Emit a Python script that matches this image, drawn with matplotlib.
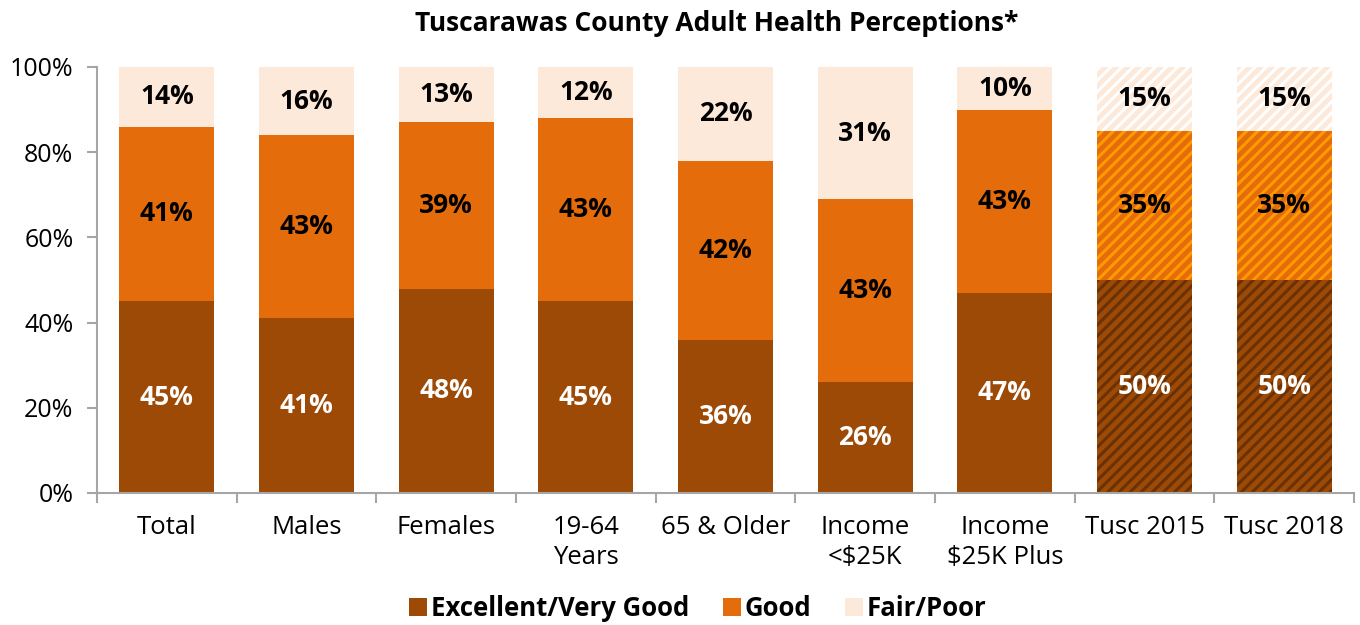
import matplotlib.pyplot as plt
from matplotlib.patches import Patch
import numpy as np

plt.rcParams['font.family'] = ['Open Sans', 'DejaVu Sans']
plt.rcParams['hatch.linewidth'] = 2.2

# data
categories = ['Total', 'Males', 'Females', '19-64\nYears', '65 & Older',
              'Income\n<$25K', 'Income\n$25K Plus', 'Tusc 2015', 'Tusc 2018']
excellent = [45, 41, 48, 45, 36, 26, 47, 50, 50]
good = [41, 43, 39, 43, 42, 43, 43, 35, 35]
fair = [14, 16, 13, 12, 22, 31, 10, 15, 15]
hatched = [False, False, False, False, False, False, False, True, True]

series_names = ['Excellent/Very Good', 'Good', 'Fair/Poor']
colors = ['#9C4A06', '#E46C0A', '#FDE9D9']
hatch_colors = ['#6A3204', '#FF9A00', '#FFFFFF']
text_colors = ['white', 'black', 'black']

fig = plt.figure(figsize=(13.6, 6.25), dpi=100)
ax = fig.add_axes([97/1360, 132/625, 1257/1360, 426/625])

x = np.arange(len(categories))
w = 0.68
bottom = np.zeros(len(categories))
for vals, c, hc, tc in zip([excellent, good, fair], colors, hatch_colors, text_colors):
    vals = np.array(vals)
    for i in range(len(categories)):
        if hatched[i]:
            ax.bar(x[i], vals[i], w, bottom=bottom[i], color=c, edgecolor=hc,
                   linewidth=0, hatch='///')
        else:
            ax.bar(x[i], vals[i], w, bottom=bottom[i], color=c, linewidth=0)
        ax.text(x[i], bottom[i] + vals[i] / 2, f'{vals[i]}%', ha='center', va='center',
                color=tc, fontsize=19, fontweight='bold')
    bottom += vals

ax.set_xlim(-0.5, len(categories) - 0.5)
ax.set_ylim(0, 100)
ax.set_yticks(range(0, 101, 20))
ax.set_yticklabels([f'{v}%' for v in range(0, 101, 20)], fontsize=18)
ax.set_xticks(x)
ax.set_xticklabels(categories, fontsize=18.5, linespacing=1.25)
ax.tick_params(axis='x', length=0, pad=16)
ax.set_xticks(np.arange(-0.5, len(categories), 1), minor=True)
ax.tick_params(axis='x', which='minor', length=7, color='#A6A6A6', width=1.5)
ax.tick_params(axis='y', length=7, color='#A6A6A6', width=1.5, pad=10)
for s in ['top', 'right']:
    ax.spines[s].set_visible(False)
for s in ['left', 'bottom']:
    ax.spines[s].set_color('#A6A6A6')
    ax.spines[s].set_linewidth(1.5)

fig.text(0.527, 0.962, 'Tuscarawas County Adult Health Perceptions*', ha='center', va='center',
         fontsize=19, fontweight='bold')

handles = [Patch(facecolor=c, label=n) for c, n in zip(colors, series_names)]
fig.legend(handles=handles, loc='center', bbox_to_anchor=(0.513, 0.027), ncol=3, frameon=False,
           prop={'weight': 'bold', 'size': 18.5}, handlelength=0.7, handleheight=0.7,
           handletextpad=0.15, columnspacing=1.3)

fig.savefig('out.png', dpi=100)
